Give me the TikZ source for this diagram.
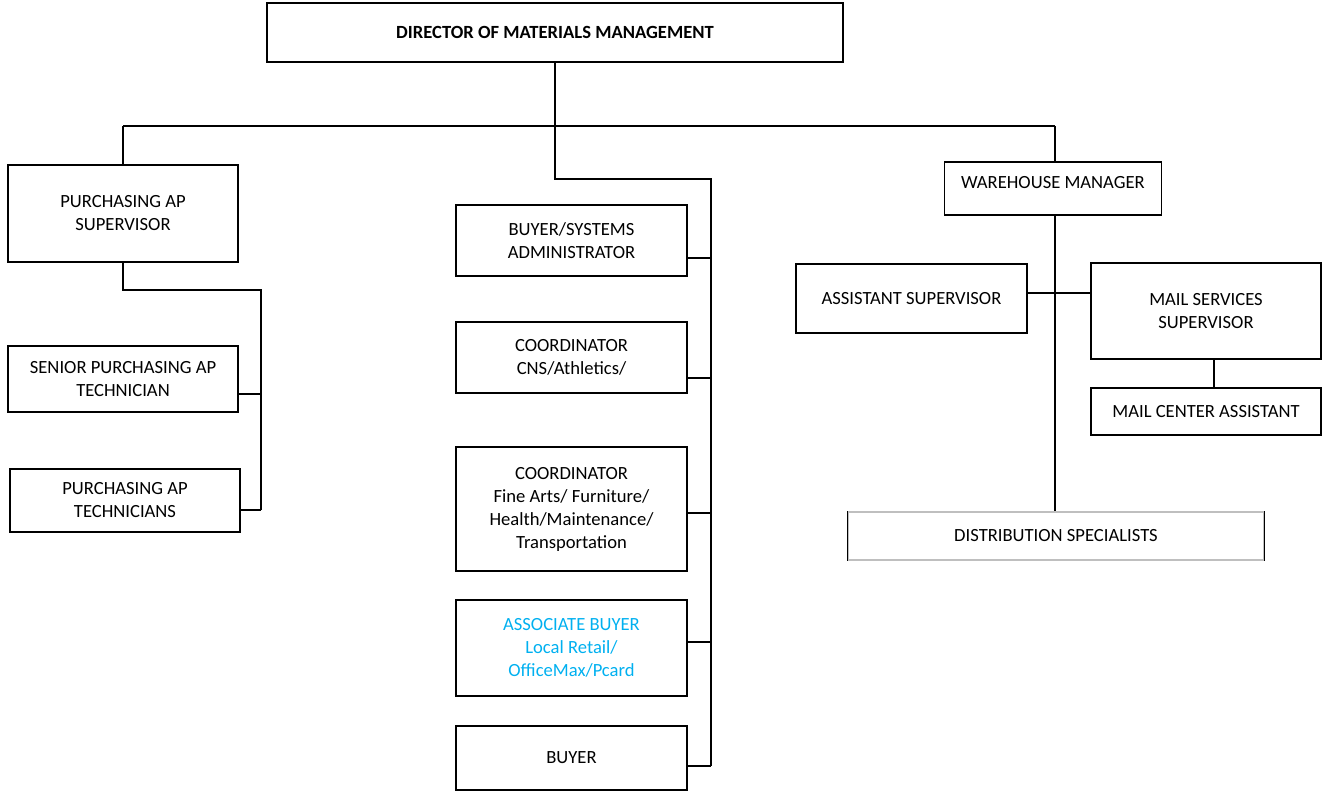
\documentclass[tikz,border=0pt]{standalone}
\usepackage{fontspec}
\setmainfont{Carlito}
\usetikzlibrary{positioning}
\definecolor{lightblue}{HTML}{00B0F0}
\tikzset{
    post/.style={shape=rectangle,draw=black,line width=1.3pt,align=center,
        inner sep=2pt,font=\fontsize{18.6}{23}\selectfont},
    link/.style={line width=1.3pt}
}

\begin{document}
\begin{tikzpicture}[x=1pt,y=-1pt]
    \useasboundingbox (0,0) rectangle (1323,793);
    % Define nodes
    \node[post,minimum width=576,minimum height=59,font=\fontsize{18.6}{23}\selectfont\bfseries] (dir) at (555,32.5) {DIRECTOR OF MATERIALS MANAGEMENT};
    \node[post,minimum width=230,minimum height=97] (pas) at (123,213.5) {PURCHASING AP\\SUPERVISOR};
    \node[post,minimum width=230,minimum height=66] (spt) at (123,379) {SENIOR PURCHASING AP\\TECHNICIAN};
    \node[post,minimum width=230,minimum height=63] (pat) at (125,500.5) {PURCHASING AP\\TECHNICIANS};
    \node[post,minimum width=231,minimum height=71] (bsa) at (571.5,240.5) {BUYER/SYSTEMS\\ADMINISTRATOR};
    \node[post,minimum width=231,minimum height=71] (cca) at (571.5,357.5) {COORDINATOR\\CNS/Athletics/};
    \node[post,minimum width=231,minimum height=124] (cfa) at (571.5,509) {COORDINATOR\\Fine Arts/ Furniture/\\Health/Maintenance/\\Transportation};
    \node[post,minimum width=231,minimum height=96,text=lightblue] (abl) at (571.5,648) {ASSOCIATE BUYER\\Local Retail/\\OfficeMax/Pcard};
    \node[post,minimum width=231,minimum height=64] (buy) at (571.5,758) {BUYER};
    \node[post,minimum width=217,minimum height=53,text depth=13pt] (whm) at (1053,188.5) {WAREHOUSE MANAGER};
    \node[post,minimum width=231,minimum height=69] (asu) at (911.5,298.5) {ASSISTANT SUPERVISOR};
    \node[post,minimum width=230,minimum height=96] (mss) at (1206,311) {MAIL SERVICES\\SUPERVISOR};
    \node[post,minimum width=230,minimum height=47] (mca) at (1206,411.5) {MAIL CENTER ASSISTANT};
    \node[post,draw=black!25,minimum width=416,minimum height=48] (dsp) at (1056,536) {DISTRIBUTION SPECIALISTS};
    \draw[link] (dsp.north west) -- (dsp.south west);
    \draw[link] (dsp.north east) -- (dsp.south east);
    % Define junctions
    \coordinate (busR) at (1055,126);
    \coordinate (mtop) at (711,179);
    \coordinate (mbot) at (711,766);
    \coordinate (ltop) at (261,290);
    \coordinate (lbot) at (261,510);
    \coordinate (rtap) at (1055,293);
    % Draw edges
    \draw[link] (pas.north |- busR) -- (busR);
    \draw[link] (pas.north |- busR) -- (pas.north);
    \draw[link] (busR) -- (busR |- whm.north);
    \draw[link] (dir.south) |- (mtop) -- (mbot);
    \draw[link] (mtop |- 0,258) -- (bsa.east |- 0,258);
    \draw[link] (mtop |- 0,378) -- (cca.east |- 0,378);
    \draw[link] (mtop |- 0,513) -- (cfa.east |- 0,513);
    \draw[link] (mtop |- 0,642) -- (abl.east |- 0,642);
    \draw[link] (mbot) -- (mbot -| buy.east);
    \draw[link] (pas.south) |- (ltop) -- (lbot);
    \draw[link] (ltop |- 0,394) -- (spt.east |- 0,394);
    \draw[link] (lbot) -- (lbot -| pat.east);
    \draw[link] (busR |- whm.south) -- (busR |- dsp.north);
    \draw[link] (rtap -| asu.east) -- (rtap -| mss.west);
    \draw[link] (mss.south -| 1214,0) -- (mca.north -| 1214,0);

\end{tikzpicture}
\end{document}
